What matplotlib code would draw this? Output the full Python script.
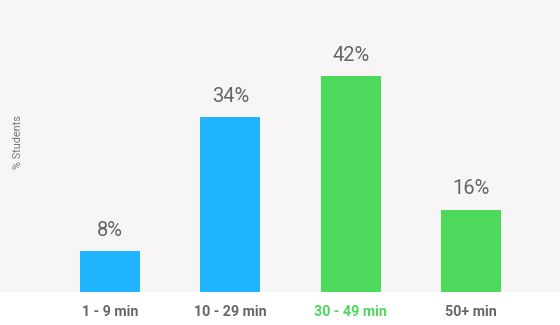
import matplotlib.pyplot as plt

categories = ['1 - 9 min', '10 - 29 min', '30 - 49 min', '50+ min']
percentages = [8, 34, 42, 16]
bar_colors = ['#20b4fe', '#20b4fe', '#4cd95c', '#4cd95c']
label_colors = ['#666666', '#666666', '#4cd95c', '#666666']

plt.rcParams['font.family'] = ['Roboto', 'DejaVu Sans']

fig = plt.figure(figsize=(5.6, 3.25), dpi=100)
fig.patch.set_facecolor('white')
ax = fig.add_axes([0, 33 / 325, 1, 292 / 325])
ax.set_facecolor('#f7f5f5')

xs = list(range(len(categories)))
bars = ax.bar(xs, percentages, width=0.5, color=bar_colors)

for bar, value in zip(bars, percentages):
    ax.annotate(f'{value}%', (bar.get_x() + bar.get_width() / 2, bar.get_height()),
                xytext=(0, 15), textcoords='offset points', ha='center', va='center',
                fontsize=14.5, color='#666666')

ax.set_xlim(-0.914, 3.74)
ax.set_ylim(0, 56.8)
ax.set_xticks(xs)
ax.set_xticklabels(categories, fontsize=10.3, fontweight='bold')
for lbl, c in zip(ax.get_xticklabels(), label_colors):
    lbl.set_color(c)
ax.tick_params(axis='x', length=0, pad=9)
ax.set_yticks([])
for s in ax.spines.values():
    s.set_visible(False)

fig.text(18 / 560, 1 - 142 / 325, '% Students', rotation=90, ha='center', va='center',
         fontsize=7.8, color='#777777')

plt.savefig('out.png', dpi=100)
